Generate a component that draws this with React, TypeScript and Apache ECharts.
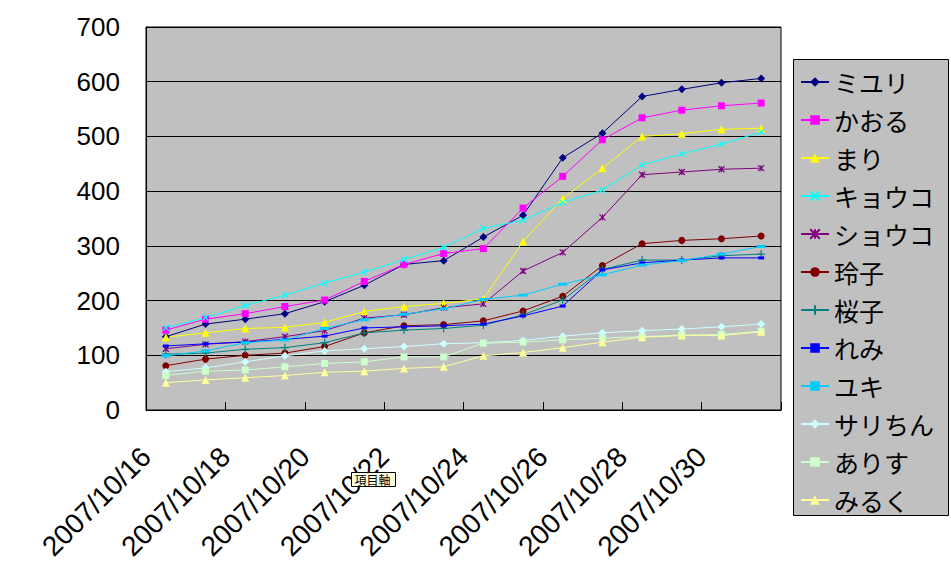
import React, { useEffect, useRef } from "react";
import * as echarts from "echarts";

const dates = [
  "2007/10/16", "2007/10/17", "2007/10/18", "2007/10/19", "2007/10/20", "2007/10/21",
  "2007/10/22", "2007/10/23", "2007/10/24", "2007/10/25", "2007/10/26", "2007/10/27",
  "2007/10/28", "2007/10/29", "2007/10/30", "2007/10/31",
];

const yTicks = [0, 100, 200, 300, 400, 500, 600, 700];

const miyuri = [134, 157, 166, 176, 198, 228, 266, 273, 316, 356, 461, 506, 573, 586, 598, 606];
const kaoru = [146, 166, 176, 189, 201, 235, 266, 286, 295, 369, 427, 494, 534, 548, 556, 561];
const mari = [133, 141, 149, 151, 160, 180, 189, 195, 203, 308, 386, 442, 500, 505, 513, 515];
const kyouko = [150, 169, 191, 210, 232, 252, 275, 297, 332, 347, 379, 402, 448, 468, 486, 508];
const shouko = [112, 120, 125, 134, 145, 168, 174, 187, 194, 254, 288, 352, 430, 435, 440, 442];
const reiko = [81, 93, 100, 104, 116, 141, 154, 156, 163, 181, 208, 264, 304, 310, 313, 318];
const sakurako = [102, 104, 111, 114, 123, 141, 146, 149, 155, 174, 201, 257, 274, 274, 282, 285];
const remi = [117, 121, 124, 129, 135, 150, 152, 154, 157, 172, 190, 256, 269, 274, 278, 278];
const yuki = [99, 108, 123, 128, 149, 165, 175, 185, 202, 210, 230, 247, 265, 273, 285, 299];
const sarichan = [70, 77, 88, 99, 108, 112, 116, 121, 123, 127, 135, 141, 145, 148, 152, 157];
const arisu = [63, 71, 73, 79, 85, 88, 97, 97, 122, 124, 128, 131, 134, 137, 138, 144];
const miruku = [50, 55, 59, 63, 69, 71, 76, 79, 99, 105, 114, 124, 133, 136, 136, 143];

const names = ["ミユリ", "かおる", "まり", "キョウコ", "ショウコ", "玲子", "桜子", "れみ", "ユキ", "サリちん", "ありす", "みるく"];
const values = [miyuri, kaoru, mari, kyouko, shouko, reiko, sakurako, remi, yuki, sarichan, arisu, miruku];
const colors = ["#000080", "#FF00FF", "#FFFF00", "#00FFFF", "#800080", "#800000", "#008080", "#0000FF", "#00CCFF", "#CCFFFF", "#CCFFCC", "#FFFF99"];

const X_PATH = "path://M0,0L10,10M10,0L0,10";
const STAR_PATH = "path://M0,0L10,10M10,0L0,10M5,0L5,10";
const PLUS_PATH = "path://M5,0L5,10M0,5L10,5";

const symbols: any[] = ["diamond", "rect", "triangle", X_PATH, STAR_PATH, "circle", PLUS_PATH, "rect", "rect", "diamond", "rect", "triangle"];
const symbolSizes: any[] = [8, 7, 8, 6, 6, 7, 8, [6, 3], [9, 3], 8, 7, 8];
const stroked = [false, false, false, true, true, false, true, false, false, false, false, false];

export default function App() {
  const ref = useRef<HTMLDivElement>(null);
  useEffect(() => {
    if (!ref.current) return;
    const chart = echarts.init(ref.current, undefined, { renderer: "svg" });
    const numFont = "'Liberation Sans', Arial, sans-serif";
    const jpFont = "'Noto Sans CJK JP', sans-serif";
    const series = names.map((name, k) => ({
      name,
      type: "line",
      data: dates.map((_, i) => [i + 0.5, values[k][i]]),
      symbol: symbols[k],
      symbolSize: symbolSizes[k],
      showAllSymbol: true,
      lineStyle: { color: colors[k], width: 1 },
      itemStyle: stroked[k]
        ? { color: colors[k], borderColor: colors[k], borderWidth: 1.2 }
        : { color: colors[k], borderWidth: 0 },
      emphasis: { disabled: true },
    }));
    chart.setOption({
      animation: false,
      backgroundColor: "#FFFFFF",
      grid: {
        left: 146,
        top: 27,
        right: 170,
        bottom: 165,
        show: true,
        backgroundColor: "#C0C0C0",
        borderColor: "#000000",
        borderWidth: 1,
      },
      xAxis: {
        type: "value",
        min: 0,
        max: dates.length,
        interval: 2,
        splitLine: { show: false },
        axisLine: { show: true, lineStyle: { color: "#000", width: 1 } },
        axisTick: { show: true, inside: true, length: 8, lineStyle: { color: "#000" } },
        axisLabel: {
          rotate: 45,
          margin: 42,
          fontSize: 28,
          color: "#000",
          fontFamily: numFont,
          showMaxLabel: true,
          formatter: (v: number) => {
            const i = Math.round(v);
            return i < dates.length ? dates[i] : "";
          },
        },
      },
      yAxis: {
        type: "value",
        min: yTicks[0],
        max: yTicks[yTicks.length - 1],
        interval: 100,
        axisLine: { show: true, lineStyle: { color: "#000" } },
        axisTick: { show: false },
        splitLine: { show: true, lineStyle: { color: "#000", width: 1 } },
        axisLabel: {
          fontSize: 26,
          color: "#000",
          margin: 26,
          fontFamily: numFont,
          padding: [4, 0, 0, 0],
        },
      },
      legend: {
        orient: "vertical",
        left: 800,
        top: 69,
        itemWidth: 28,
        itemHeight: 12,
        itemGap: 12,
        padding: 0,
        data: names,
        textStyle: { fontSize: 25, lineHeight: 26, color: "#000", fontFamily: jpFont },
      },
      graphic: [
        {
          type: "rect",
          left: 793,
          top: 59,
          z: 0,
          shape: { width: 155, height: 456 },
          style: { fill: "#C0C0C0", stroke: "#000", lineWidth: 1 },
        },
        {
          type: "group",
          left: 351,
          top: 472,
          z: 100,
          children: [
            {
              type: "rect",
              shape: { x: 0, y: 0, width: 44, height: 14 },
              style: { fill: "#FFFFE1", stroke: "#000", lineWidth: 1 },
              z: 100,
            },
            {
              type: "text",
              x: 3,
              y: 1,
              z: 101,
              style: { text: "項目軸", fontSize: 12, fill: "#000", fontFamily: jpFont },
            },
          ],
        },
      ],
      series,
    });
    return () => chart.dispose();
  }, []);
  return <div ref={ref} style={{ position: "fixed", left: 0, top: 0, width: 951, height: 575 }} />;
}
